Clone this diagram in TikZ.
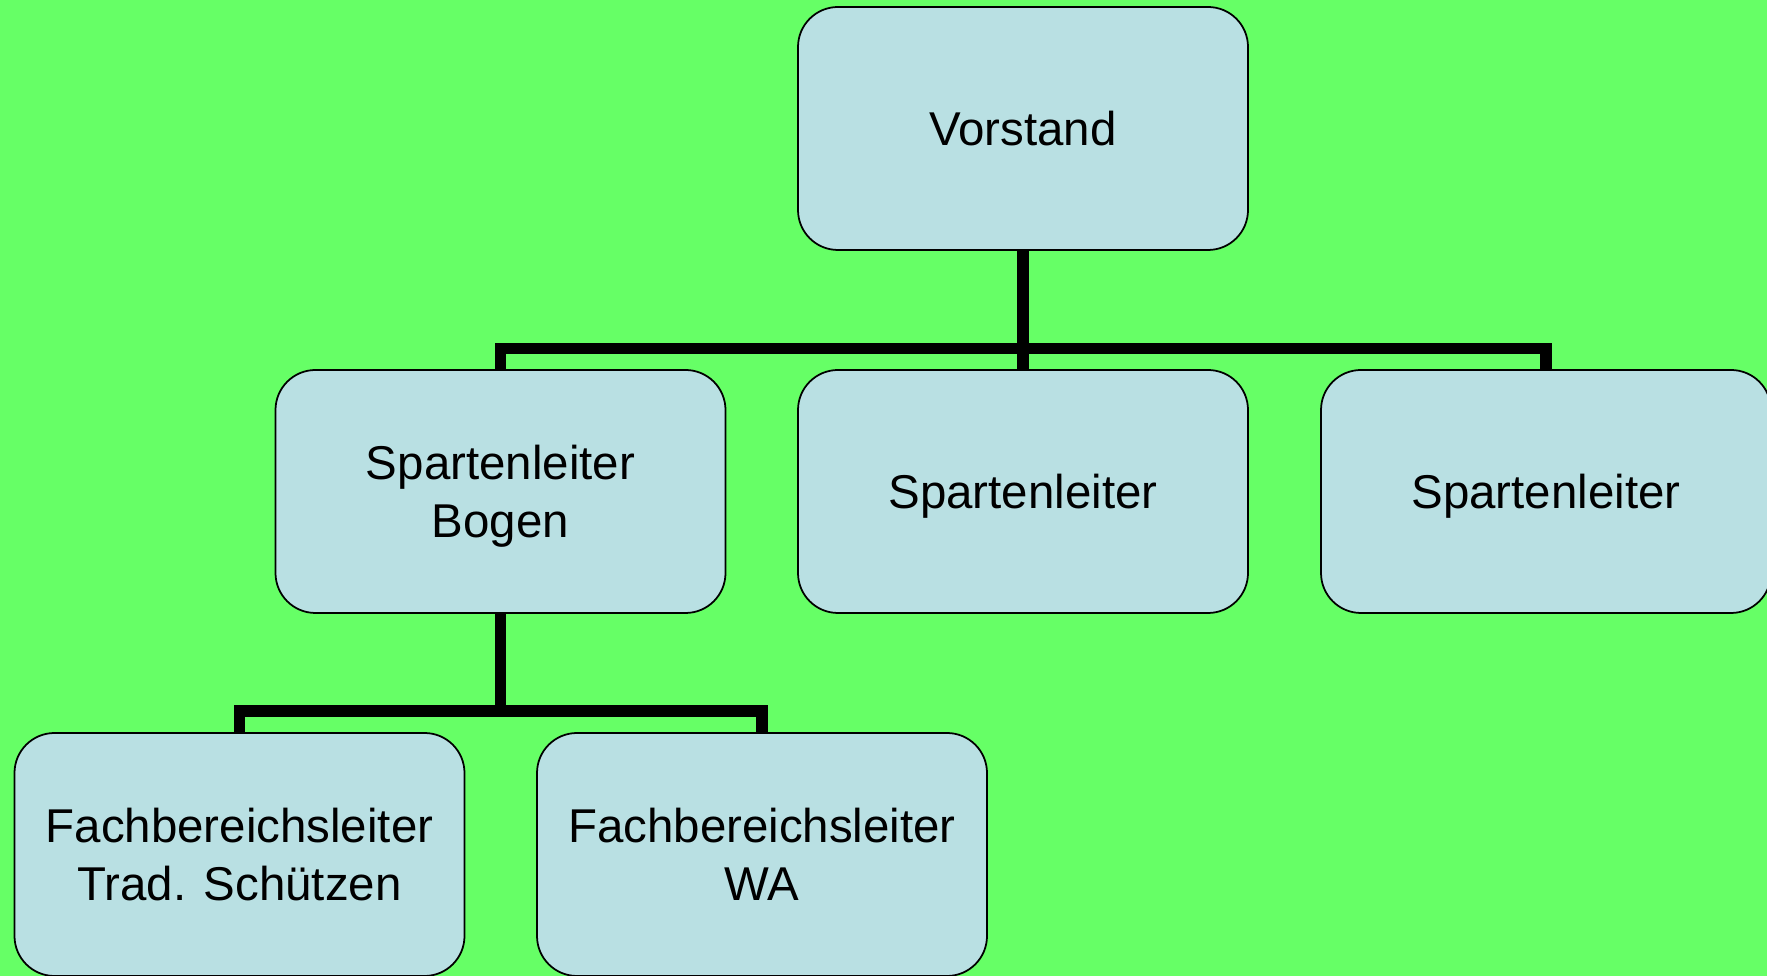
\documentclass[tikz,border=0pt]{standalone}
\usepackage{fontspec}
\setmainfont{Liberation Sans}
\usetikzlibrary{positioning}

\definecolor{bggreen}{RGB}{102,255,102}
\definecolor{boxfill}{RGB}{185,224,227}

\tikzset{
	post/.style={draw=black, line width=0.5pt, fill=boxfill, rounded corners=0.4cm,
		minimum width=4.5cm, minimum height=2.43cm, align=center, text depth=0pt,
		font=\fontsize{13.5}{16.4}\selectfont},
	conn/.style={line width=3.4pt, line join=miter}
}

\begin{document}
\begin{tikzpicture}
	\useasboundingbox (0,0) rectangle (17.67,9.76);
	\clip (0,0) rectangle (17.67,9.76);
	\fill [bggreen] (0,0) rectangle (17.67,9.76);

	\coordinate (bar1) at (0, 6.275);
	\coordinate (bar2) at (0, 2.65);

	\node [post] (vorstand) at (10.23, 8.475) {Vorstand};

	\node [post] (bogen)   at (5.005, 4.845) {Spartenleiter\\Bogen};
	\node [post] (spmid)   at (10.23, 4.845) {Spartenleiter};
	\node [post] (spright) at (15.46, 4.845) {Spartenleiter};

	\node [post] (fbtrad) at (2.395, 1.215) {Fachbereichsleiter\\Trad. Schützen};
	\node [post] (fbwa)   at (7.62, 1.215) {Fachbereichsleiter\\WA};

	% first level
	\draw [conn] (vorstand.south) -- (spmid.north);
	\draw [conn] (bogen.north) -- (bogen.north |- bar1) -- (spright.north |- bar1) -- (spright.north);

	% second level
	\draw [conn] (bogen.south) -- (bogen.south |- bar2);
	\draw [conn] (fbtrad.north) -- (fbtrad.north |- bar2) -- (fbwa.north |- bar2) -- (fbwa.north);
\end{tikzpicture}
\end{document}
